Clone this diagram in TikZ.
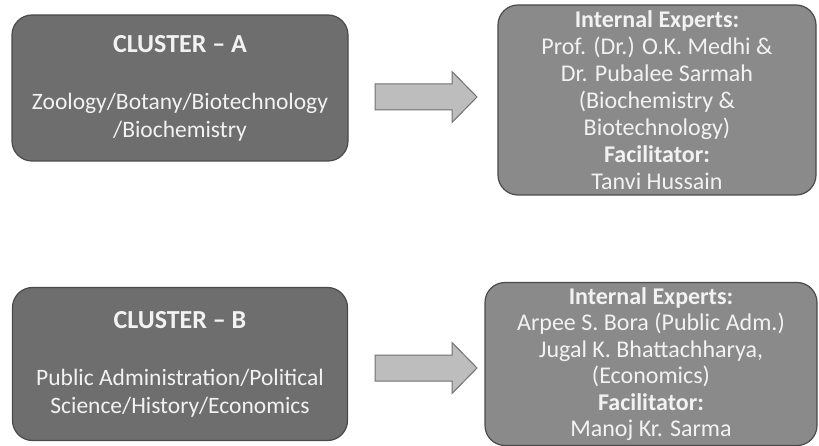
\documentclass[tikz,border=0pt]{standalone}
\usepackage{fontspec}
\setmainfont{Carlito}
\usepackage{xcolor}

\definecolor{clusterfill}{HTML}{6E6E6E}
\definecolor{expertfill}{HTML}{8A8A8A}
\definecolor{boxline}{HTML}{4A4A4A}
\definecolor{arrowfill}{HTML}{BDBDBD}
\definecolor{arrowline}{HTML}{707070}
\definecolor{boxtext}{HTML}{F2F2F2}

\newcommand{\clustertitle}[1]{{\fontsize{26}{28}\selectfont\bfseries #1}}

\begin{document}
\begin{tikzpicture}[x=1pt, y=-1pt,
  box/.style = {draw=boxline, line width=1.2pt, rounded corners=20pt,
    inner sep=0pt, align=center, text=boxtext},
  cluster/.style = {box, fill=clusterfill, font=\fontsize{23.5}{28}\selectfont},
  experts/.style = {box, fill=expertfill, font=\fontsize{24}{27}\selectfont},
  bigarrow/.style = {draw=arrowline, fill=arrowfill, line width=1pt,
    line join=miter}]

\useasboundingbox (0,0) rectangle (819,446);

\node (clA) at (180,88) [cluster, minimum width=336pt, minimum height=146pt]
  {\clustertitle{CLUSTER -- A}\\[29pt]Zoology/Botany/Biotechnology\\/Biochemistry};
\node (clB) at (180,364) [cluster, minimum width=335pt, minimum height=153pt]
  {\clustertitle{CLUSTER -- B}\\[29pt]Public Administration/Political\\Science/History/Economics};

\node (exA) at (657,100) [experts, minimum width=318pt, minimum height=190pt]
  {\textbf{Internal Experts:}\\Prof. (Dr.) O.K. Medhi \&\\Dr. Pubalee Sarmah\\(Biochemistry \&\\Biotechnology)\\\textbf{Facilitator:}\\Tanvi Hussain};
\node (exB) at (651,364) [experts, minimum width=332pt, minimum height=163pt,
  font=\fontsize{24}{26.5}\selectfont]
  {\textbf{Internal Experts:}\\Arpee S. Bora (Public Adm.)\\Jugal K. Bhattachharya,\\(Economics)\\\textbf{Facilitator:}\\Manoj Kr. Sarma};

% block arrows between the boxes
\coordinate (arA) at (375,97);
\coordinate (arB) at (375,368);
\foreach \a in {arA,arB}
  \draw[bigarrow] (\a) ++(0,-13) -- ++(77,0) -- ++(0,-12.5) -- ++(25,25.5)
    -- ++(-25,25.5) -- ++(0,-12.5) -- ++(-77,0) -- cycle;

\end{tikzpicture}
\end{document}
